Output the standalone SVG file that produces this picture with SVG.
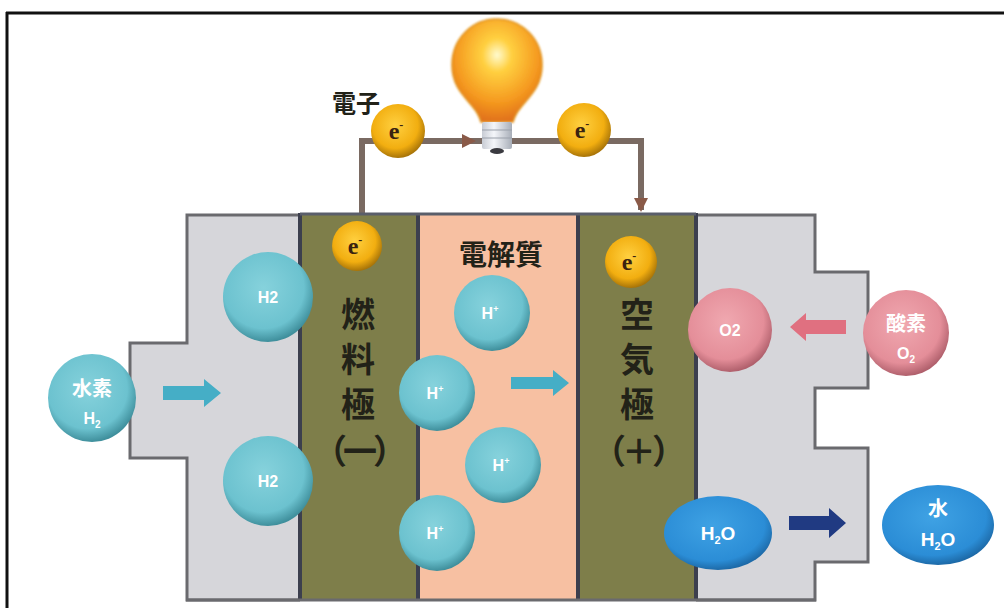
<svg xmlns="http://www.w3.org/2000/svg" width="1004" height="608" viewBox="0 0 1004 608">
  <defs>
    <radialGradient id="teal" cx="0.45" cy="0.4" r="0.6">
      <stop offset="0" stop-color="#86d2dc"/>
      <stop offset="0.75" stop-color="#6cc2cf"/>
      <stop offset="1" stop-color="#3f8f9c"/>
    </radialGradient>
    <radialGradient id="pink" cx="0.45" cy="0.4" r="0.6">
      <stop offset="0" stop-color="#f0a8b0"/>
      <stop offset="0.75" stop-color="#e48e99"/>
      <stop offset="1" stop-color="#b0606c"/>
    </radialGradient>
    <radialGradient id="blue" cx="0.45" cy="0.4" r="0.6">
      <stop offset="0" stop-color="#3fa2e4"/>
      <stop offset="0.8" stop-color="#2b8dd6"/>
      <stop offset="1" stop-color="#1d6aa8"/>
    </radialGradient>
    <radialGradient id="gold" cx="0.45" cy="0.4" r="0.6">
      <stop offset="0" stop-color="#ffd040"/>
      <stop offset="0.7" stop-color="#f2ae10"/>
      <stop offset="1" stop-color="#a87408"/>
    </radialGradient>
    <radialGradient id="bulb" cx="0.5" cy="0.35" r="0.65">
      <stop offset="0" stop-color="#fffbd0"/>
      <stop offset="0.25" stop-color="#ffd040"/>
      <stop offset="0.7" stop-color="#f59a20"/>
      <stop offset="1" stop-color="#e0701a"/>
    </radialGradient>
    <linearGradient id="socket" x1="0" y1="0" x2="1" y2="0">
      <stop offset="0" stop-color="#c8ccd4"/>
      <stop offset="0.4" stop-color="#f4f6fa"/>
      <stop offset="1" stop-color="#a8aeb8"/>
    </linearGradient>
    <filter id="soft" x="-20%" y="-20%" width="140%" height="140%">
      <feGaussianBlur stdDeviation="0.8"/>
    </filter>
  </defs>
  <style>
    .housing { fill: #d6d6da; stroke: #6a6a6e; stroke-width: 3; }
    .electrode { fill: #7e7e4a; }
    .electrolyte { fill: #f7c0a2; }
    .sep { stroke: #3c3f4e; stroke-width: 4; }
    .wire { fill: none; stroke: #7a6a62; stroke-width: 6; }
    .wire-head { fill: #8a5a48; }
    .mol-t { fill: url(#teal); }
    .mol-p { fill: url(#pink); }
    .mol-b { fill: url(#blue); }
    .elec { fill: url(#gold); }
    .lbl { font-family: "Liberation Sans", "Noto Sans CJK JP", sans-serif; font-weight: bold; fill: #ffffff; text-anchor: middle; }
    .jw { font-family: "Noto Sans CJK JP", sans-serif; font-weight: bold; fill: #ffffff; text-anchor: middle; }
    .jd { font-family: "Noto Sans CJK JP", sans-serif; font-weight: bold; fill: #222218; text-anchor: middle; }
    .jv { font-family: "Noto Sans CJK JP", sans-serif; font-weight: bold; fill: #222218; writing-mode: vertical-rl; font-size: 34px; letter-spacing: 11px; }
    .e { font-family: "Liberation Serif", serif; font-weight: bold; fill: #3a2210; text-anchor: middle; font-size: 24px; }
  </style>

  <!-- outer frame -->
  <g id="frame">
    <line x1="6" y1="13" x2="1004" y2="13" stroke="#111" stroke-width="3"/>
    <line x1="7" y1="12" x2="7" y2="608" stroke="#111" stroke-width="3"/>
  </g>

  <!-- external circuit -->
  <g id="connectors">
    <path class="wire" d="M362,215 V141 H641 V210"/>
    <path class="wire-head" d="M462,134 L476,141 L462,148 Z"/>
    <path class="wire-head" d="M634,198 L641,212 L648,198 Z"/>
  </g>

  <!-- cell housing, electrodes and electrolyte -->
  <g id="anode-housing">
    <path class="housing" d="M300,215 H187 V343 H130 V458 H187 V600 H300"/>
  </g>
  <g id="cathode-housing">
    <path class="housing" d="M696,215 H815 V272 H868 V388 H815 V448 H868 V562 H815 V600 H696"/>
  </g>
  <g id="fuel-electrode">
    <rect class="electrode" x="300" y="215" width="118" height="385"/>
  </g>
  <g id="electrolyte">
    <rect class="electrolyte" x="418" y="215" width="160" height="385"/>
  </g>
  <g id="air-electrode">
    <rect class="electrode" x="578" y="215" width="118" height="385"/>
  </g>
  <g id="cell-lines">
    <line class="sep" x1="300" y1="213" x2="300" y2="600"/>
    <line class="sep" x1="418" y1="213" x2="418" y2="600"/>
    <line class="sep" x1="578" y1="213" x2="578" y2="600"/>
    <line class="sep" x1="696" y1="213" x2="696" y2="600"/>
    <line x1="300" y1="214" x2="696" y2="214" stroke="#5a5e6a" stroke-width="3"/>
    <line x1="186" y1="600" x2="816" y2="600" stroke="#6a6a6e" stroke-width="3"/>
  </g>

  <!-- light bulb -->
  <g id="bulb">
    <path d="M497,19 C522,19 542,39 542,65 C542,86 530,96 522,106 C516,113 514,118 513,122 H481 C480,118 478,113 472,106 C464,96 452,86 452,65 C452,39 472,19 497,19 Z" fill="url(#bulb)" stroke="#e09018" stroke-width="1.5" filter="url(#soft)"/>
    <rect x="482" y="122" width="30" height="27" rx="2" fill="url(#socket)"/>
    <line x1="482" y1="130" x2="512" y2="130" stroke="#9aa0aa" stroke-width="1"/>
    <line x1="482" y1="138" x2="512" y2="138" stroke="#9aa0aa" stroke-width="1"/>
    <ellipse cx="497" cy="151" rx="7" ry="3" fill="#3a3a40"/>
  </g>

  <!-- electrons -->
  <g id="label-electron">
    <text class="jd" x="356" y="112" font-size="24">電子</text>
  </g>
  <g id="electron-1">
    <circle class="elec" cx="398" cy="131" r="27"/>
    <text class="e" x="396" y="139">e<tspan font-size="12" dy="-10">-</tspan></text>
  </g>
  <g id="electron-2">
    <circle class="elec" cx="584" cy="130" r="27"/>
    <text class="e" x="582" y="138">e<tspan font-size="12" dy="-10">-</tspan></text>
  </g>
  <g id="electron-3">
    <circle class="elec" cx="357" cy="246" r="25"/>
    <text class="e" x="355" y="254">e<tspan font-size="12" dy="-10">-</tspan></text>
  </g>
  <g id="electron-4">
    <circle class="elec" cx="631" cy="262" r="26"/>
    <text class="e" x="629" y="270">e<tspan font-size="12" dy="-10">-</tspan></text>
  </g>

  <!-- electrode and electrolyte labels -->
  <g id="label-fuel-electrode">
    <text class="jv" x="358" y="297">燃料極</text>
    <text class="jd" x="358" y="464" font-size="34" letter-spacing="-4">（一）</text>
  </g>
  <g id="label-electrolyte">
    <text class="jd" x="501" y="265" font-size="28">電解質</text>
  </g>
  <g id="label-air-electrode">
    <text class="jv" x="637" y="297">空気極</text>
    <text class="jd" x="637" y="464" font-size="34" letter-spacing="-4">（＋）</text>
  </g>

  <!-- hydrogen supply -->
  <g id="hydrogen-in">
    <circle class="mol-t" cx="92" cy="398" r="44"/>
    <text class="jw" x="92" y="396" font-size="20">水素</text>
    <text class="lbl" x="92" y="424" font-size="16">H<tspan font-size="10" dy="4">2</tspan></text>
  </g>
  <g id="arrow-h2">
    <path d="M163,386 H204 V379 L221,393 L204,407 V400 H163 Z" fill="#45aec6"/>
  </g>
  <g id="h2-upper">
    <circle class="mol-t" cx="268" cy="297" r="45"/>
    <text class="lbl" x="268" y="303" font-size="16">H2</text>
  </g>
  <g id="h2-lower">
    <circle class="mol-t" cx="268" cy="481" r="45"/>
    <text class="lbl" x="268" y="487" font-size="16">H2</text>
  </g>

  <!-- protons -->
  <g id="proton-1">
    <circle class="mol-t" cx="492" cy="313" r="38"/>
    <text class="lbl" x="490" y="319" font-size="16">H<tspan font-size="9" dy="-7">+</tspan></text>
  </g>
  <g id="proton-2">
    <circle class="mol-t" cx="437" cy="393" r="38"/>
    <text class="lbl" x="435" y="399" font-size="16">H<tspan font-size="9" dy="-7">+</tspan></text>
  </g>
  <g id="proton-3">
    <circle class="mol-t" cx="503" cy="465" r="38"/>
    <text class="lbl" x="501" y="471" font-size="16">H<tspan font-size="9" dy="-7">+</tspan></text>
  </g>
  <g id="proton-4">
    <circle class="mol-t" cx="437" cy="533" r="38"/>
    <text class="lbl" x="435" y="539" font-size="16">H<tspan font-size="9" dy="-7">+</tspan></text>
  </g>
  <g id="arrow-proton">
    <path d="M511,377 H553 V370 L569,383 L553,396 V389 H511 Z" fill="#45aec6"/>
  </g>

  <!-- oxygen supply -->
  <g id="oxygen-in">
    <circle class="mol-p" cx="906" cy="333" r="43"/>
    <text class="jw" x="906" y="331" font-size="20">酸素</text>
    <text class="lbl" x="906" y="359" font-size="16">O<tspan font-size="10" dy="4">2</tspan></text>
  </g>
  <g id="arrow-o2">
    <path d="M846,320 H806 V313 L790,327 L806,341 V334 H846 Z" fill="#e07080"/>
  </g>
  <g id="o2-molecule">
    <circle class="mol-p" cx="730" cy="330" r="42"/>
    <text class="lbl" x="730" y="336" font-size="16">O2</text>
  </g>

  <!-- water output -->
  <g id="h2o-molecule">
    <ellipse class="mol-b" cx="718" cy="533" rx="54" ry="37"/>
    <text class="lbl" x="718" y="540" font-size="19">H<tspan font-size="11" dy="4">2</tspan><tspan dy="-4">O</tspan></text>
  </g>
  <g id="arrow-h2o">
    <path d="M789,516 H829 V508 L846,523 L829,538 V530 H789 Z" fill="#203a82"/>
  </g>
  <g id="water-out">
    <ellipse class="mol-b" cx="938" cy="525" rx="56" ry="40"/>
    <text class="jw" x="938" y="516" font-size="20">水</text>
    <text class="lbl" x="938" y="546" font-size="19">H<tspan font-size="11" dy="4">2</tspan><tspan dy="-4">O</tspan></text>
  </g>
</svg>
